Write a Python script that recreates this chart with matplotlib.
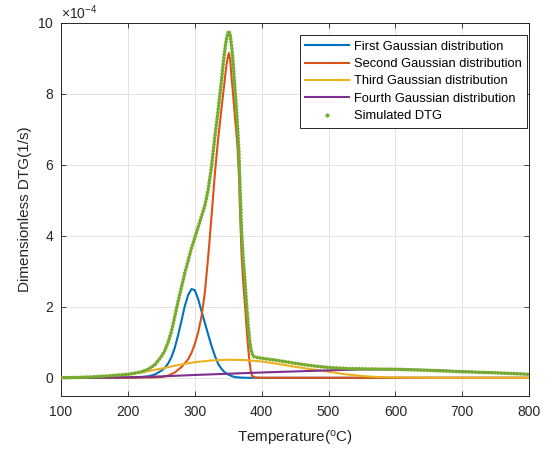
import matplotlib.pyplot as plt
import numpy as np
from matplotlib.lines import Line2D

plt.rcParams['font.family'] = ['Liberation Sans', 'DejaVu Sans']
plt.rcParams['mathtext.default'] = 'regular'

SKALA = 1e-4   # semua nilai DTG di bawah dalam satuan 1e-4 (1/s)

# First Gaussian distribution
t1 = [100, 150, 200, 210, 220, 230, 240, 250, 255, 260, 265, 270, 275, 280, 285, 290, 295,
      300, 305, 310, 315, 320, 325, 330, 335, 340, 345, 350, 355, 360, 370, 380, 400, 800]
d1 = [0, 0, 0.005, 0.01, 0.02, 0.04, 0.09, 0.2, 0.28, 0.4, 0.58, 0.84, 1.2, 1.6, 2.02, 2.33, 2.5,
      2.47, 2.22, 1.88, 1.55, 1.22, 0.9, 0.62, 0.39, 0.25, 0.15, 0.09, 0.05, 0.02, 0.005, 0, 0, 0]

# Second Gaussian distribution
t2 = [100, 200, 240, 250, 260, 270, 280, 290, 295, 300, 305, 310, 315, 320, 325, 330, 335, 340,
      343, 346, 348, 350, 351, 353, 355, 357, 360, 362, 364, 366, 368, 370, 372, 374, 376, 378,
      380, 382, 384, 386, 390, 400, 800]
d2 = [0, 0, 0.01, 0.02, 0.06, 0.15, 0.3, 0.52, 0.7, 0.95, 1.28, 1.72, 2.4, 3.4, 4.55, 5.75, 6.75, 7.6,
      8.1, 8.6, 8.9, 9.1, 9.15, 8.95, 8.45, 8.05, 7.35, 6.95, 6.45, 5.75, 4.5, 3.45, 2.8, 2.3, 1.8, 1.25,
      0.8, 0.42, 0.15, 0.05, 0.01, 0, 0]

# Third Gaussian distribution
t3 = [100, 125, 150, 175, 200, 225, 250, 275, 300, 325, 350, 375, 400, 425, 450, 475, 500,
      525, 550, 575, 600, 650, 800]
d3 = [0, 0.01, 0.02, 0.05, 0.09, 0.17, 0.26, 0.36, 0.44, 0.49, 0.51, 0.5, 0.46, 0.39, 0.31, 0.24, 0.17,
      0.1, 0.05, 0.02, 0.01, 0, 0]

# Fourth Gaussian distribution
t4 = [100, 150, 200, 250, 300, 350, 400, 450, 500, 550, 600, 650, 700, 750, 800]
d4 = [0, 0.005, 0.015, 0.04, 0.08, 0.115, 0.15, 0.18, 0.21, 0.235, 0.24, 0.22, 0.18, 0.14, 0.1]

# Simulated DTG
t5 = [100, 125, 150, 175, 200, 210, 220, 230, 240, 250, 255, 260, 265, 270, 275, 280, 285, 290,
      295, 300, 305, 310, 315, 320, 325, 330, 335, 340, 343, 346, 348, 350, 351, 353, 355, 357,
      360, 362, 364, 366, 368, 370, 372, 374, 376, 378, 380, 382, 384, 386, 388, 390, 395, 400,
      420, 440, 460, 480, 500, 530, 560, 600, 650, 700, 750, 800]
d5 = [0, 0.01, 0.03, 0.06, 0.1, 0.13, 0.17, 0.24, 0.36, 0.6, 0.76, 1.0, 1.3, 1.72, 2.15, 2.55, 2.95, 3.3,
      3.65, 3.95, 4.25, 4.55, 4.85, 5.3, 5.95, 6.8, 7.55, 8.4, 8.95, 9.4, 9.6, 9.74, 9.77, 9.65, 9.35, 8.95,
      8.15, 7.65, 7.05, 6.35, 5.15, 4.1, 3.45, 2.95, 2.45, 1.9, 1.45, 1.05, 0.8, 0.66, 0.6, 0.58, 0.57, 0.55,
      0.5, 0.44, 0.38, 0.33, 0.29, 0.26, 0.25, 0.24, 0.21, 0.17, 0.14, 0.1]

label_kurva = ['First Gaussian distribution', 'Second Gaussian distribution',
               'Third Gaussian distribution', 'Fourth Gaussian distribution', 'Simulated DTG']
warna = ['#0072BD', '#D95319', '#EDB120', '#7E2F8E', '#77AC30']

fig = plt.figure(figsize=(5.6, 4.5), dpi=100)
ax = fig.add_axes([0.109, 0.121, 0.836, 0.828])

for t, d, lab, c in zip([t1, t2, t3, t4], [d1, d2, d3, d4], label_kurva[:4], warna[:4]):
    ax.plot(t, np.array(d) * SKALA, color=c, lw=1.5, label=lab)

# kurva simulasi: titik-titik rapat
ax.plot(t5, np.array(d5) * SKALA, color=warna[4], lw=2.7, linestyle=(0, (0.01, 0.85)),
        dash_capstyle='round', zorder=5)

ax.set_xlim(100, 800)
ax.set_ylim(-0.5e-4, 10e-4)
ax.set_xticks(np.arange(100, 801, 100))
ax.set_yticks(np.arange(0, 10.1, 2) * SKALA)
ax.ticklabel_format(axis='y', style='sci', scilimits=(-4, -4), useMathText=True)
ax.yaxis.get_offset_text().set_fontsize(10)
ax.yaxis.get_offset_text().set_color('#262626')

ax.set_xlabel('Temperature($^{o}$C)', fontsize=11, color='#262626', labelpad=7)
ax.set_ylabel('Dimensionless DTG(1/s)', fontsize=11, color='#262626')

ax.grid(True, color='#e3e3e3', lw=0.7)
ax.set_axisbelow(True)
ax.tick_params(direction='in', top=True, right=True, length=3.5, width=0.6,
               labelsize=10, colors='#262626')
ax.tick_params(axis='x', pad=7)
ax.tick_params(axis='y', pad=5)
for sp in ax.spines.values():
    sp.set_linewidth(0.7)
    sp.set_color('#262626')

handles = ax.get_lines()[:4] + [Line2D([], [], marker='.', linestyle='none',
                                       color=warna[4], markersize=4)]
leg = ax.legend(handles, label_kurva, loc='upper right', bbox_to_anchor=(0.996, 0.968),
                fontsize=9.3, fancybox=False, framealpha=1, edgecolor='#262626',
                handlelength=3.4, handletextpad=0.35, labelspacing=0.41,
                borderpad=0.45, borderaxespad=0)
leg.get_frame().set_linewidth(0.7)

fig.savefig('out.png', dpi=100)
